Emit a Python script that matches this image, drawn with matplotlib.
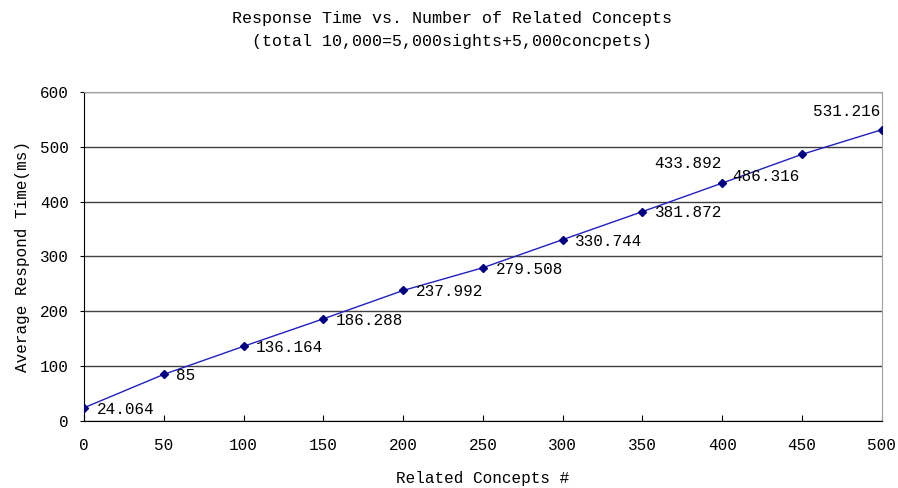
import matplotlib
matplotlib.use("Agg")
import matplotlib.pyplot as plt

concepts = [0, 50, 100, 150, 200, 250, 300, 350, 400, 450, 500]
resp_ms = [24.064, 85, 136.164, 186.288, 237.992, 279.508, 330.744, 381.872, 433.892, 486.316, 531.216]
labels = ["24.064", "85", "136.164", "186.288", "237.992", "279.508", "330.744", "381.872", "433.892", "486.316", "531.216"]
xticks = [0, 50, 100, 150, 200, 250, 300, 350, 400, 450, 500]
yticks = [0, 100, 200, 300, 400, 500, 600]

# label offsets in points (dx, dy, ha)
offsets = [(9, -1, "left")] * 8 + [(-25, 14, "center"), (-26, -16, "center"), (-25, 13, "center")]

plt.rcParams['font.family'] = ['Liberation Mono', 'DejaVu Sans Mono']
fig = plt.figure(figsize=(8.98, 4.88), dpi=100)
ax = fig.add_axes([0.0935, 0.1373, 0.8885, 0.6742])

ax.plot(concepts, resp_ms, color="#2020C0", lw=1.0, marker="D", ms=4.5,
        markerfacecolor="#000080", markeredgecolor="#000080", zorder=3)
for x, y, t, (dx, dy, ha) in zip(concepts, resp_ms, labels, offsets):
    ax.annotate(t, (x, y), xytext=(dx, dy), textcoords="offset points",
                ha=ha, va="center", fontsize=11.5, color="black")

ax.set_xlim(0, 500)
ax.set_ylim(0, 600)
ax.set_xticks(xticks)
ax.set_yticks(yticks)
ax.tick_params(axis="x", direction="in", length=4, labelsize=11.5, pad=12)
ax.tick_params(axis="y", direction="out", length=3, labelsize=11.5, pad=8)
ax.yaxis.grid(True, color="#404040", lw=1.0)
ax.set_axisbelow(True)
for s in ["top", "right"]:
    ax.spines[s].set_color("#A0A0A0")
for s in ["left", "bottom"]:
    ax.spines[s].set_color("black")

ax.set_xlabel("Related Concepts #", fontsize=11.5, labelpad=13)
ax.set_ylabel("Average Respond Time(ms)", fontsize=11.5, labelpad=7)
fig.text(0.503, 0.963, "Response Time vs. Number of Related Concepts", ha="center", va="center", fontsize=12)
fig.text(0.503, 0.914, "(total 10,000=5,000sights+5,000concpets)", ha="center", va="center", fontsize=12)

fig.savefig("out.png", dpi=100)
